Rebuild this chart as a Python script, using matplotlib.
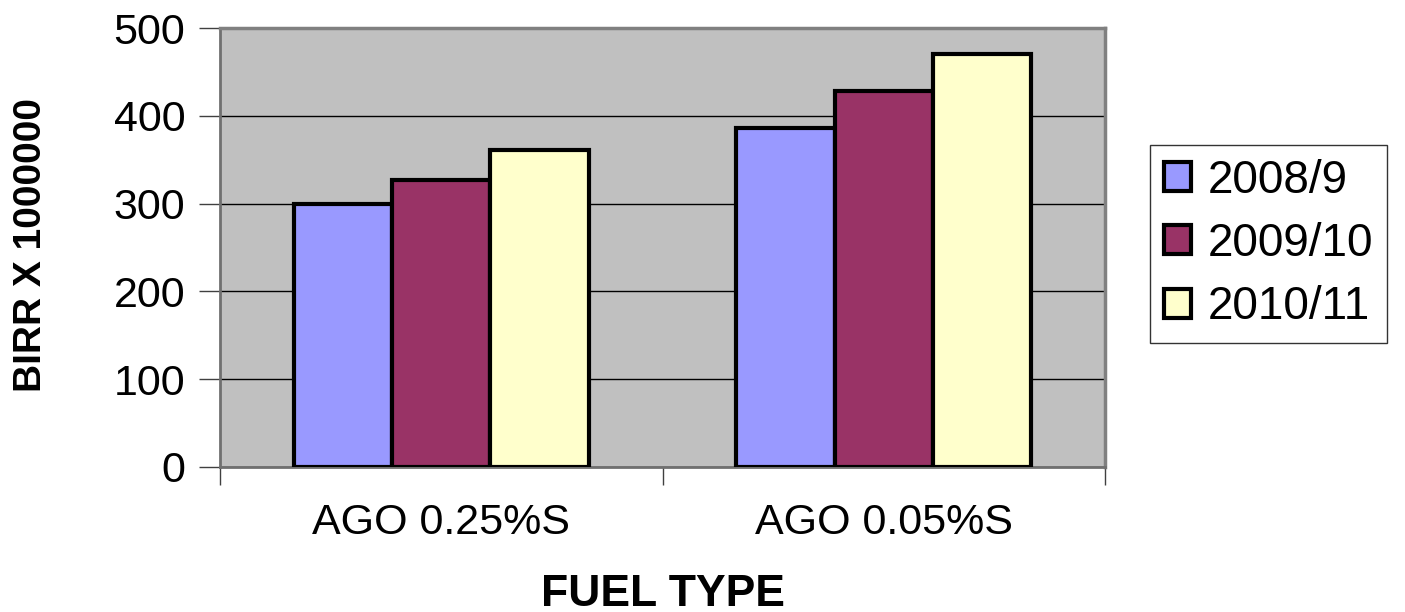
import numpy as np
import matplotlib
matplotlib.use('Agg')
import matplotlib.pyplot as plt

plt.rcParams['font.family'] = ['Liberation Sans', 'DejaVu Sans']

fuel_types = ['AGO 0.25%S', 'AGO 0.05%S']
years = ['2008/9', '2009/10', '2010/11']
sales_2008 = [299, 386]
sales_2009 = [327, 428]
sales_2010 = [361, 470]
y_ticks = [0, 100, 200, 300, 400, 500]

colors = ['#9999FF', '#993366', '#FFFFCC']

fig = plt.figure(figsize=(14.05, 6.12), dpi=100)
ax = fig.add_axes([220 / 1405, 1 - 467 / 612, 885 / 1405, 439 / 612])
ax.set_facecolor('#C0C0C0')

x = np.arange(len(fuel_types))
width = 0.222
for i, (vals, name) in enumerate(zip([sales_2008, sales_2009, sales_2010], years)):
    ax.bar(x + (i - 1) * width, vals, width, color=colors[i], edgecolor='black',
           linewidth=3, label=name, zorder=3)

ax.set_xlim(-0.5, 1.5)
ax.set_ylim(0, 500)
ax.set_yticks(y_ticks)
ax.yaxis.grid(True, color='black', linewidth=1, zorder=1)
ax.set_axisbelow(True)

# category ticks sit between the groups
ax.set_xticks([-0.5, 0.5, 1.5])
ax.set_xticklabels([])
ax.set_xticks(x, minor=True)
ax.set_xticklabels(fuel_types, minor=True, fontsize=31)
ax.tick_params(axis='x', which='minor', length=0, pad=26)
ax.tick_params(axis='x', which='major', length=13, width=1, color='#404040')
ax.tick_params(axis='y', length=15, width=1, color='#404040', labelsize=31, pad=10)

for side in ['top', 'right']:
    ax.spines[side].set_color('#808080')
    ax.spines[side].set_linewidth(2.5)
ax.spines['left'].set_color('#707070')
ax.spines['left'].set_linewidth(2)
ax.spines['bottom'].set_color('#707070')
ax.spines['bottom'].set_linewidth(2)

ax.set_xlabel('FUEL TYPE', fontsize=32, fontweight='bold')
ax.xaxis.set_label_coords(0.5, -0.243)
fig.text(31 / 1405, 1 - 245 / 612, 'BIRR X 1000000', rotation=90, fontsize=28,
         fontweight='bold', ha='center', va='center')

leg = fig.legend(loc='center left', bbox_to_anchor=(1150 / 1405, 1 - 244 / 612),
                 fontsize=33, frameon=True, fancybox=False, edgecolor='black',
                 handlelength=0.6, handleheight=0.6, handletextpad=0.35,
                 labelspacing=0.42, borderpad=0.3, borderaxespad=0)
leg.get_frame().set_linewidth(1)

fig.savefig('out.png', dpi=100)
